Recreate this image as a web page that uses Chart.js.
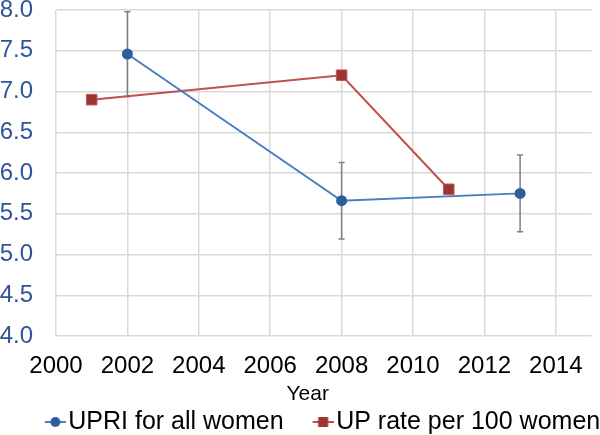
<!DOCTYPE html>
<html>
<head>
<meta charset="utf-8">
<script src="https://cdn.jsdelivr.net/npm/chart.js@4.4.1/dist/chart.umd.min.js"></script>
<style>
  html, body { margin: 0; padding: 0; background: #fff; }
  #wrap { width: 600px; height: 435px; }
</style>
</head>
<body>
<div id="wrap"><canvas id="chart"></canvas></div>
<script>
// data
const xTicks = [2000, 2002, 2004, 2006, 2008, 2010, 2012, 2014];

const upriYears = [2002, 2008, 2013];
const upriValues = [7.46, 5.66, 5.75];
const upriLow = [6.94, 5.19, 5.28];
const upriHigh = [7.98, 6.13, 6.22];

const upYears = [2001, 2008, 2011];
const upValues = [6.90, 7.20, 5.80];

const BLUE_LINE = "#4a7ec2";
const BLUE_DOT = "#2e5d9c";
const RED_LINE = "#c0504d";
const RED_DOT = "#9b3434";

// legend icons: short line with the marker, drawn at the right end of a wider canvas
function legendIcon(kind) {
  const c = document.createElement("canvas");
  c.width = 60;
  c.height = 14;
  const g = c.getContext("2d");
  g.strokeStyle = kind === "circle" ? BLUE_LINE : RED_LINE;
  g.lineWidth = 2;
  g.beginPath();
  g.moveTo(39, 7);
  g.lineTo(60, 7);
  g.stroke();
  if (kind === "circle") {
    g.fillStyle = BLUE_DOT;
    g.beginPath();
    g.arc(49.5, 7, 5, 0, Math.PI * 2);
    g.fill();
  } else {
    g.fillStyle = RED_DOT;
    g.fillRect(44.5, 2, 10, 10);
  }
  return c;
}

const icons = [legendIcon("circle"), legendIcon("rect")];

const errorBars = {
  id: "errorBars",
  beforeDatasetsDraw(chart) {
    const ctx = chart.ctx;
    const xs = chart.scales.x;
    const ys = chart.scales.y;
    ctx.save();
    ctx.strokeStyle = "#7f7f7f";
    ctx.lineWidth = 1.5;
    upriYears.forEach((yr, i) => {
      const px = xs.getPixelForValue(yr);
      const top = ys.getPixelForValue(upriHigh[i]);
      const bot = ys.getPixelForValue(upriLow[i]);
      ctx.beginPath();
      ctx.moveTo(px, top);
      ctx.lineTo(px, bot);
      ctx.moveTo(px - 3, top);
      ctx.lineTo(px + 3, top);
      ctx.moveTo(px - 3, bot);
      ctx.lineTo(px + 3, bot);
      ctx.stroke();
    });
    ctx.restore();
  }
};

// small position tweaks: legend lower/right, axis title a bit left
const nudges = {
  id: "nudges",
  afterLayout(chart) {
    chart.legend.left += 8;
    chart.legend.right += 8;
    chart.legend.top += 9.5;
    chart.legend.bottom += 9.5;
    const xs = chart.scales.x;
    if (!xs._titleNudged) {
      const orig = xs.drawTitle;
      xs.drawTitle = function () {
        this.ctx.save();
        this.ctx.translate(-16, 0);
        orig.call(this);
        this.ctx.restore();
      };
      xs._titleNudged = true;
    }
  }
};

const ctx = document.getElementById("chart").getContext("2d");

new Chart(ctx, {
  type: "line",
  data: {
    datasets: [
      {
        label: "UPRI for all women",
        data: upriYears.map((x, i) => ({ x: x, y: upriValues[i] })),
        borderColor: BLUE_LINE,
        backgroundColor: BLUE_DOT,
        borderWidth: 2,
        pointStyle: "circle",
        pointRadius: 5.5,
        pointBorderWidth: 0,
        tension: 0
      },
      {
        label: "UP rate per 100 women",
        data: upYears.map((x, i) => ({ x: x, y: upValues[i] })),
        borderColor: RED_LINE,
        backgroundColor: RED_DOT,
        borderWidth: 2,
        pointStyle: "rect",
        pointRadius: 7.5,
        pointBorderColor: "#c65a57",
        pointBorderWidth: 1,
        tension: 0
      }
    ]
  },
  options: {
    responsive: true,
    maintainAspectRatio: false,
    animation: false,
    layout: { padding: { top: 0, right: 0, left: 0, bottom: 0 } },
    scales: {
      x: {
        type: "linear",
        min: 2000,
        max: 2015,
        afterBuildTicks: (scale) => {
          scale.ticks = xTicks.map(v => ({ value: v }));
        },
        afterFit: (scale) => {
          scale.height = 64;
          scale.paddingLeft = 0;
          scale.paddingRight = 0;
        },
        ticks: {
          autoSkip: false,
          maxRotation: 0,
          color: "#000",
          font: { family: "Liberation Sans", size: 24 },
          callback: (v) => String(v),
          padding: 16
        },
        grid: { color: "#d9d9d9", lineWidth: 1.5, drawTicks: false },
        border: { display: false },
        title: {
          display: true,
          text: "Year",
          color: "#000",
          font: { family: "Liberation Sans", size: 21 },
          padding: { top: 0, bottom: -7 }
        }
      },
      y: {
        min: 4,
        max: 8,
        afterFit: (scale) => {
          scale.width = 56;
          scale.paddingTop = 10;
          scale.paddingBottom = 0;
        },
        ticks: {
          stepSize: 0.5,
          color: "#2f5597",
          font: { family: "Liberation Sans", size: 24 },
          callback: (v) => v.toFixed(1),
          padding: 23
        },
        grid: { color: "#d9d9d9", lineWidth: 1.5, drawTicks: false },
        border: { display: false }
      }
    },
    plugins: {
      legend: {
        position: "bottom",
        labels: {
          color: "#000",
          font: { family: "Liberation Sans", size: 25 },
          usePointStyle: true,
          pointStyleWidth: 40,
          padding: 0,
          generateLabels: (chart) => chart.data.datasets.map((ds, i) => ({
            text: ds.label,
            pointStyle: icons[i],
            fillStyle: ds.backgroundColor,
            strokeStyle: ds.borderColor,
            lineWidth: 0,
            datasetIndex: i,
            hidden: false,
            fontColor: "#000"
          }))
        }
      },
      tooltip: { enabled: false }
    }
  },
  plugins: [errorBars, nudges]
});
</script>
</body>
</html>
